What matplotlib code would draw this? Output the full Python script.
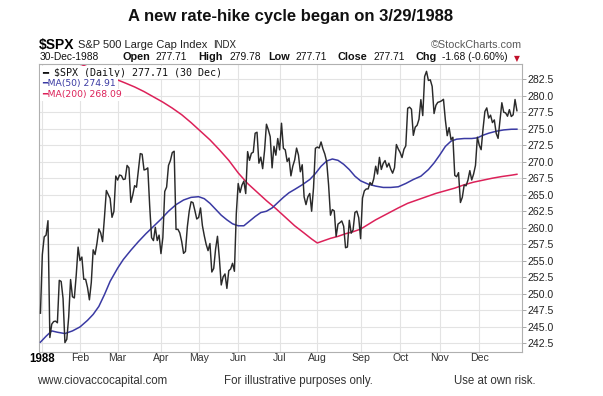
import numpy as np
import matplotlib.pyplot as plt

plt.rcParams['font.family'] = ['Liberation Sans', 'DejaVu Sans']

# $SPX daily closes, index 0 = 31-Dec-1987, then every trading day of 1988
close_dec87 = [247.08]
close_jan = [255.94, 258.63, 258.89, 261.07, 243.40, 245.42, 245.81, 245.88, 245.63, 252.05,
             251.88, 249.32, 242.63, 243.14, 246.50, 252.17, 249.57, 249.38, 252.83, 257.07]
close_feb = [255.04, 255.57, 252.21, 252.21, 250.96, 249.10, 251.72, 256.66, 255.95, 257.63,
             259.83, 259.21, 257.91, 261.61, 265.64, 265.02, 264.43, 261.58, 262.46, 267.82]
close_mar = [267.22, 267.98, 267.88, 267.30, 267.38, 269.43, 269.06, 263.84, 264.94, 266.37,
             266.13, 268.65, 271.22, 271.12, 268.74, 268.84, 269.06, 263.35, 258.51, 258.06,
             260.07, 258.07, 258.89]
close_apr = [256.09, 258.51, 265.49, 266.16, 269.43, 270.16, 271.37, 271.58, 259.75, 259.77,
             259.21, 257.92, 256.13, 256.42, 260.14, 262.51, 263.93, 263.80, 262.61, 261.33]
close_may = [261.56, 263.00, 260.32, 258.79, 257.48, 256.54, 257.62, 253.31, 253.85, 256.78,
             258.71, 255.39, 251.35, 252.57, 253.02, 250.83, 253.51, 253.76, 254.63, 253.42,
             262.16]
close_jun = [266.69, 265.33, 266.45, 267.05, 265.17, 271.52, 270.20, 271.26, 271.43, 274.30,
             274.45, 269.77, 270.68, 268.94, 271.67, 275.66, 274.82, 273.78, 269.06, 272.31,
             270.98, 273.50]
close_jul = [271.78, 275.81, 272.02, 271.78, 270.02, 270.55, 267.85, 269.32, 270.26, 272.05,
             271.00, 268.47, 269.53, 264.68, 263.50, 264.68, 265.19, 262.50, 266.02, 272.02]
close_aug = [272.21, 272.06, 272.98, 271.93, 271.15, 269.98, 266.49, 261.90, 262.75, 262.55,
             258.69, 260.56, 260.77, 261.03, 260.24, 256.98, 257.09, 261.13, 259.18, 259.68,
             262.33, 262.51, 261.52]
close_sep = [258.35, 264.48, 265.59, 265.87, 265.88, 266.84, 266.47, 267.43, 269.31, 268.13,
             270.65, 268.82, 269.73, 270.16, 269.18, 269.76, 268.88, 268.26, 269.08, 272.59,
             271.91]
close_oct = [271.38, 270.62, 271.86, 272.39, 278.07, 278.24, 277.93, 273.98, 275.22, 275.50,
             276.41, 279.38, 276.97, 282.88, 283.66, 282.28, 282.38, 281.38, 277.28, 278.53,
             278.97]
close_nov = [279.06, 279.20, 279.43, 276.31, 273.93, 275.15, 273.33, 273.69, 267.92, 267.72,
             268.34, 263.82, 264.60, 266.47, 266.35, 267.21, 268.64, 267.23, 268.13, 269.43,
             273.70]
close_dec = [272.49, 271.81, 274.93, 277.59, 278.13, 276.59, 277.03, 275.91, 276.31, 274.28,
             273.52, 276.29, 278.91, 277.47, 277.38, 276.87, 277.87, 276.83, 277.08, 279.40,
             277.71]

months = [close_jan, close_feb, close_mar, close_apr, close_may, close_jun,
          close_jul, close_aug, close_sep, close_oct, close_nov, close_dec]
month_labels = ['1988', 'Feb', 'Mar', 'Apr', 'May', 'Jun', 'Jul', 'Aug', 'Sep', 'Oct', 'Nov', 'Dec']

# moving averages (trading day index, value)
ma50_day = [0, 3, 6, 9, 13, 17, 21, 25, 28, 31, 34, 37, 41, 44, 48, 52, 56, 60, 64, 68,
            72, 76, 80, 84, 87, 90, 93, 96, 99, 102, 105, 108, 111, 114, 117, 120, 123, 126,
            129, 132, 135, 139, 143, 146, 149, 152, 155, 158, 161, 164, 167, 170, 174, 178,
            182, 186, 190, 194, 198, 202, 206, 209, 212, 215, 218, 221, 225, 229, 232, 235,
            238, 242, 246, 250, 253]
ma50_val = [242.7, 243.6, 244.4, 244.2, 244.0, 244.4, 245.0, 246.0, 246.9, 248.1, 249.9,
            251.9, 253.9, 255.2, 256.6, 257.9, 259.1, 260.2, 261.3, 262.5, 263.5, 264.2,
            264.6, 264.7, 264.4, 263.7, 262.8, 261.9, 261.2, 260.6, 260.3, 260.3, 261.0,
            261.7, 262.3, 262.5, 263.0, 263.8, 264.6, 265.3, 265.8, 266.5, 267.3, 268.2,
            269.3, 270.1, 270.4, 270.2, 269.6, 268.8, 267.8, 267.1, 266.6, 266.3, 266.1,
            266.1, 266.2, 266.7, 267.3, 267.8, 268.8, 269.8, 271.0, 272.3, 273.1, 273.4,
            273.5, 273.5, 273.6, 274.0, 274.3, 274.6, 274.8, 274.9, 274.91]

ma200_day = [20, 30, 38, 45, 50, 55, 60, 65, 70, 75, 80, 85, 90, 95, 100, 105, 110, 115,
             120, 125, 130, 135, 140, 144, 147, 150, 154, 158, 162, 166, 170, 174, 178, 182,
             186, 190, 195, 200, 205, 210, 215, 220, 225, 230, 235, 240, 245, 250, 253]
ma200_val = [284.9, 283.7, 282.7, 281.9, 281.3, 280.6, 279.8, 279.0, 278.1, 277.1, 275.9,
             274.6, 273.3, 271.8, 270.2, 268.3, 266.7, 265.4, 264.1, 262.9, 261.6, 260.3,
             259.2, 258.3, 257.7, 258.0, 258.4, 258.7, 259.1, 259.4, 259.8, 260.5, 261.2,
             261.8, 262.4, 263.0, 263.7, 264.2, 264.7, 265.2, 265.6, 266.0, 266.5, 266.9,
             267.2, 267.5, 267.75, 267.95, 268.09]

quote_parts = [('30-Dec-1988', 40, 'normal'), ('Open', 123, 'bold'), ('277.71', 155, 'normal'),
               ('High', 198, 'bold'), ('279.78', 230, 'normal'), ('Low', 268, 'bold'),
               ('277.71', 296, 'normal'), ('Close', 337, 'bold'), ('277.71', 374, 'normal'),
               ('Chg', 415, 'bold'), ('-1.68 (-0.60%)', 442, 'normal')]

close = close_dec87 + sum(months, [])
days = np.arange(len(close))
month_len = [len(m) for m in months]
month_start = 1 + np.concatenate([[0], np.cumsum(month_len)[:-1]])

W, H = 603, 396
fig = plt.figure(figsize=(W / 100, H / 100), dpi=100)


def px(x, y):
    return x / W, 1 - y / H


ax = fig.add_axes([39.5 / W, 44 / H, 482.5 / W, 288 / H])
ax.plot(ma200_day, ma200_val, color='#dc2159', lw=1.1, zorder=2)
ax.plot(ma50_day, ma50_val, color='#3a3aa3', lw=1.1, zorder=3)
ax.plot(days, close, color='#2a2a2a', lw=1.05, zorder=4)

ax.set_xlim(-0.5, 255.7)
ax.set_ylim(241.21, 284.77)
ax.set_yticks(np.arange(242.5, 283, 2.5))
ax.yaxis.set_major_formatter(plt.FormatStrFormatter('%.1f'))
ax.yaxis.tick_right()
ax.tick_params(axis='y', length=3, width=0.6, color='#999999', pad=1,
               labelsize=7.6, labelcolor='#222222')
ax.set_xticks(month_start)
ax.set_xticklabels(month_labels)
ax.tick_params(axis='x', length=0, pad=0.8, labelsize=7.6, labelcolor='#333333')
ax.get_xticklabels()[0].set_fontweight('bold')
ax.get_xticklabels()[0].set_color('black')
ax.get_xticklabels()[0].set_fontsize(8.3)
ax.grid(True, color='#e3e3e3', lw=0.8)
ax.set_axisbelow(True)
for s in ax.spines.values():
    s.set_color('#b0b0b0')
    s.set_linewidth(0.8)

# legend rows
legend_rows = [('━ $SPX (Daily) 277.71 (30 Dec)', '#111111', ['DejaVu Sans Mono'], 7.2),
               ('━MA(50) 274.91', '#3a3aa3', ['DejaVu Sans'], 6.7),
               ('━MA(200) 268.09', '#dc2159', ['DejaVu Sans'], 6.7)]
for i, (txt, col, fam, fs) in enumerate(legend_rows):
    fig.text(*px(42, 72.5 + 11.2 * i), txt, color=col, family=fam, fontsize=fs,
             va='center', ha='left', zorder=10,
             bbox=dict(facecolor='white', edgecolor='none', pad=1.3))

# headers
fig.text(*px(291, 17), 'A new rate-hike cycle began on 3/29/1988', fontsize=12,
         fontweight='bold', ha='center', va='center', color='#111111')
fig.text(*px(39, 45), '$SPX', fontsize=10, fontweight='bold', ha='left', va='center')
fig.text(*px(78, 45), 'S&P 500 Large Cap Index', fontsize=8, ha='left', va='center', color='#222222')
fig.text(*px(213, 45), 'INDX', fontsize=7, ha='left', va='center', color='#222222')
fig.text(*px(522, 44.5), '\u00a9StockCharts.com', fontsize=7.8, ha='right', va='center', color='#5a5a5a')
for txt, x, wt in quote_parts:
    fig.text(*px(x, 57.5), txt, fontsize=7.8 if wt == 'bold' else 7.4, fontweight=wt,
             ha='left', va='center', color='#111111')
fig.text(*px(514, 58.5), '\u25bc', fontsize=5.5, ha='left', va='center', color='#c0102a',
         family=['DejaVu Sans'])

# footer
fig.text(*px(37, 381), 'www.ciovaccocapital.com', fontsize=8.3, ha='left', va='center', color='#333333')
fig.text(*px(224, 381), 'For illustrative purposes only.', fontsize=8.3, ha='left', va='center', color='#333333')
fig.text(*px(536, 381), 'Use at own risk.', fontsize=8.3, ha='right', va='center', color='#333333')

fig.savefig('out.png', dpi=100)
